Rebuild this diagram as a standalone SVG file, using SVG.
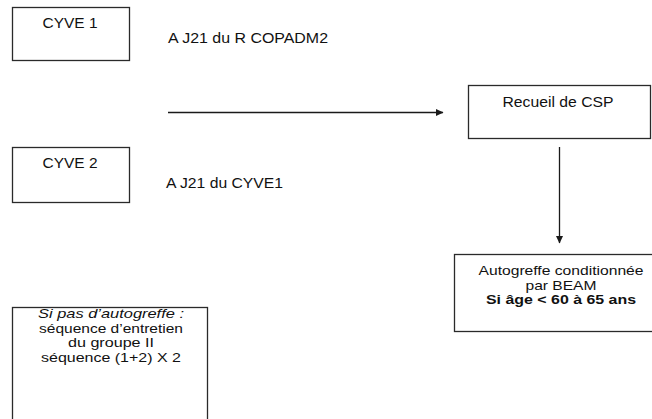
<svg xmlns="http://www.w3.org/2000/svg" width="652" height="419" viewBox="0 0 652 419">
<style>
.box{fill:#fff;stroke:#2a2a2a;stroke-width:1.3}
.t{font-family:"Liberation Sans",Arial,sans-serif;font-size:14px;fill:#111}
.m{font-size:13px}
.c{text-anchor:middle}
.edge{stroke:#1a1a1a;stroke-width:1.3;fill:none}
</style>
<defs>
<marker id="arr" markerWidth="8" markerHeight="8" refX="7" refY="4" orient="auto" markerUnits="userSpaceOnUse">
<path d="M0,0.5 L7.5,4 L0,7.5 Z" fill="#1a1a1a"/>
</marker>
</defs>
<rect width="652" height="419" fill="#fff"/>
<g id="cyve1">
<rect class="box" x="12.5" y="7.5" width="117" height="53"/>
<text class="t c" x="70" y="28" textLength="55" lengthAdjust="spacingAndGlyphs">CYVE 1</text>
</g>
<g id="label1">
<text class="t" x="168" y="43" textLength="160" lengthAdjust="spacingAndGlyphs">A J21 du R COPADM2</text>
</g>
<g id="cyve2">
<rect class="box" x="12.5" y="147.5" width="117" height="55"/>
<text class="t c" x="70" y="168" textLength="55" lengthAdjust="spacingAndGlyphs">CYVE 2</text>
</g>
<g id="label2">
<text class="t" x="166" y="188" textLength="117" lengthAdjust="spacingAndGlyphs">A J21 du CYVE1</text>
</g>
<g id="recueil">
<rect class="box" x="468.5" y="85.5" width="182" height="53"/>
<text class="t c" x="558" y="107" textLength="111" lengthAdjust="spacingAndGlyphs">Recueil de CSP</text>
</g>
<g id="autogreffe">
<rect class="box" x="454.5" y="254.5" width="210" height="77"/>
<text class="t m c" x="561" y="275" textLength="165" lengthAdjust="spacingAndGlyphs">Autogreffe conditionnée</text>
<text class="t m c" x="561" y="289.5" textLength="71" lengthAdjust="spacingAndGlyphs">par BEAM</text>
<text class="t m c" x="561" y="304" font-weight="bold" textLength="150" lengthAdjust="spacingAndGlyphs">Si âge &lt; 60 à 65 ans</text>
</g>
<g id="noautogreffe">
<rect class="box" x="12.5" y="307.5" width="195" height="130"/>
<text class="t m c" x="111" y="318" font-style="italic" textLength="146" lengthAdjust="spacingAndGlyphs">Si pas d’autogreffe :</text>
<text class="t m c" x="111" y="332.5" textLength="144" lengthAdjust="spacingAndGlyphs">séquence d’entretien</text>
<text class="t m c" x="111" y="347" textLength="86" lengthAdjust="spacingAndGlyphs">du groupe II</text>
<text class="t m c" x="111" y="361.5" textLength="140" lengthAdjust="spacingAndGlyphs">séquence (1+2) X 2</text>
</g>
<g id="connectors">
<line class="edge" x1="168" y1="112.5" x2="443" y2="112.5" marker-end="url(#arr)"/>
<line class="edge" x1="559.5" y1="147" x2="559.5" y2="243" marker-end="url(#arr)"/>
</g>
</svg>
